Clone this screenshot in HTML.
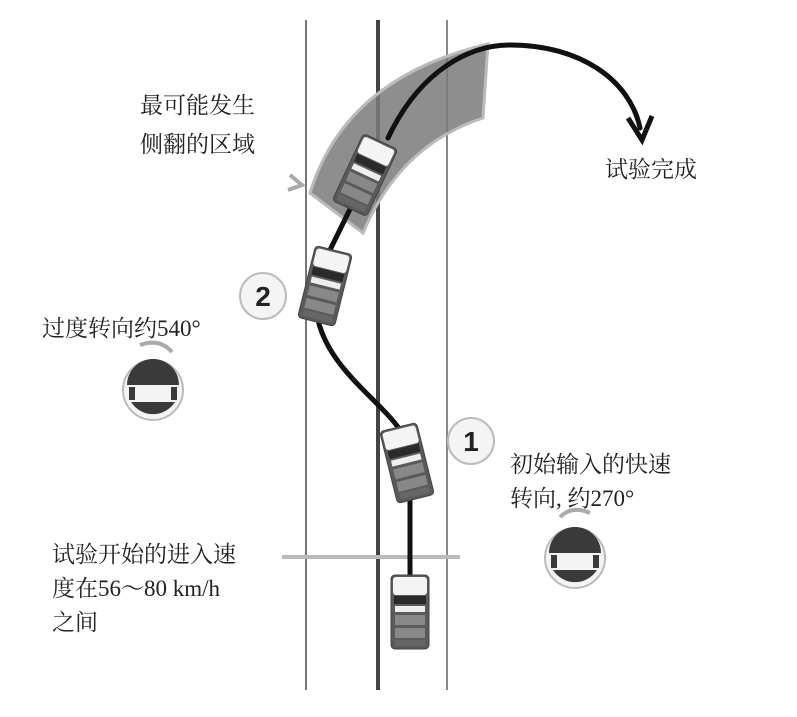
<!DOCTYPE html>
<html><head><meta charset="utf-8"><style>
body{margin:0;background:#fff}
svg text{font-family:"Liberation Serif","Noto Serif CJK SC","Noto Sans CJK SC",serif;font-size:23px;fill:#222}
</style></head><body>
<svg width="797" height="712" viewBox="0 0 797 712" xmlns="http://www.w3.org/2000/svg">
<defs>
<g id="car">
<rect x="-19" y="-37" width="38" height="74" rx="4" fill="#5a5a5a" stroke="#444"/>
<rect x="-17" y="-35" width="34" height="18" rx="3" fill="#f4f4f4"/>
<rect x="-16" y="-16" width="32" height="8" fill="#2a2a2a"/>
<rect x="-15" y="-6" width="30" height="6" fill="#eee"/>
<rect x="-15" y="3" width="30" height="10" fill="#888"/>
<rect x="-15" y="16" width="30" height="10" fill="#888"/>
<rect x="-15" y="28" width="30" height="6" fill="#666"/>
</g>
<g id="wheel">
<circle r="30" fill="#f4f4f4" stroke="#bbb" stroke-width="2"/>
<path d="M-26,-5 A26,26 0 0 1 26,-5 Z" fill="#3a3a3a"/>
<path d="M-22,12 L22,12 A26,26 0 0 1 -22,12 Z" fill="#3a3a3a"/>
<rect x="-24" y="-3" width="6" height="13" fill="#3a3a3a"/>
<rect x="18" y="-3" width="6" height="13" fill="#3a3a3a"/>
</g>
</defs>
<line x1="306" y1="20" x2="306" y2="690" stroke="#777" stroke-width="2"/>
<line x1="378" y1="20" x2="378" y2="690" stroke="#444" stroke-width="4"/>
<line x1="447" y1="20" x2="447" y2="690" stroke="#888" stroke-width="2"/>
<line x1="282" y1="557" x2="460" y2="557" stroke="#bbb" stroke-width="4"/>
<path d="M310,193 Q345,78 488,44 L483,118 Q400,145 363,233 Z" fill="#7a7a7a" fill-opacity="0.85" stroke="#bbb" stroke-width="3"/>
<path d="M290,175 l12,10 -14,5" fill="none" stroke="#aaa" stroke-width="4"/>
<path d="M410,600 L410,500 M400,430 C380,400 330,370 318,320 M330,250 L352,205 M388,138 C420,70 470,45 510,45 C580,45 630,80 640,128" fill="none" stroke="#111" stroke-width="5" stroke-linecap="round"/>
<path d="M628,118 L642,140 L652,116" fill="none" stroke="#111" stroke-width="5"/>
<use href="#car" transform="translate(365,175) rotate(25)"/>
<use href="#car" transform="translate(325,286) rotate(14)"/>
<use href="#car" transform="translate(407,463) rotate(-14)"/>
<use href="#car" transform="translate(410,612)"/>
<circle cx="263" cy="296" r="23" fill="#f4f4f4" stroke="#bbb" stroke-width="2"/>
<text x="263" y="306" text-anchor="middle" style="font-size:28px;font-weight:bold;font-family:'Liberation Sans',sans-serif">2</text>
<circle cx="471" cy="441" r="23" fill="#f4f4f4" stroke="#bbb" stroke-width="2"/>
<text x="471" y="451" text-anchor="middle" style="font-size:28px;font-weight:bold;font-family:'Liberation Sans',sans-serif">1</text>
<use href="#wheel" transform="translate(153,390)"/>
<path d="M140,345 Q160,338 172,352" fill="none" stroke="#aaa" stroke-width="4"/>
<use href="#wheel" transform="translate(575,558)"/>
<path d="M590,513 Q572,505 560,517" fill="none" stroke="#aaa" stroke-width="4"/>
<text x="140" y="113">最可能发生</text>
<text x="140" y="152">侧翻的区域</text>
<text x="605" y="177">试验完成</text>
<text x="42" y="336">过度转向约540°</text>
<text x="510" y="472">初始输入的快速</text>
<text x="510" y="506">转向, 约270°</text>
<text x="52" y="562">试验开始的进入速</text>
<text x="52" y="596">度在56～80 km/h</text>
<text x="52" y="630">之间</text>
</svg>
</body></html>
